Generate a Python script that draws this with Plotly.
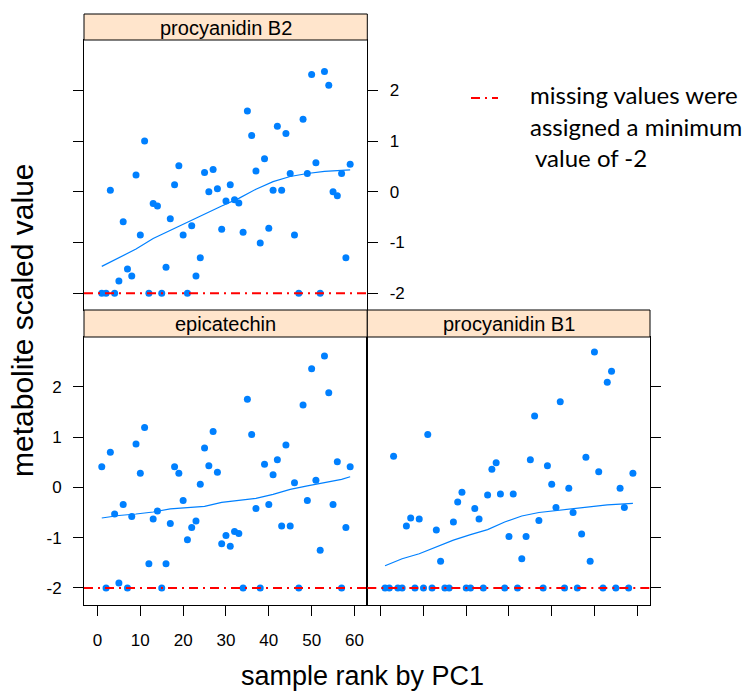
import plotly.graph_objects as go

# ---------------- data ----------------
rank = list(range(1, 60))
MISSING_VALUE = -2

procyanidin_b2 = [-2, -2, 0.03, -2, -1.76, -0.59, -1.52, -1.66, 0.33, -0.85,
                  1.00, -2, -0.23, -0.28, -2, -1.49, -0.53, 0.14, 0.51, -0.85,
                  -2, -0.67, -1.66, -1.30, 0.38, 0.00, 0.44, 0.06, -0.74, -0.18,
                  0.14, -0.16, -0.22, -0.80, 1.59, 1.11, 0.41, -1.01, 0.65, -0.72,
                  0.03, 1.29, 0.03, 1.15, 0.36, -0.85, -2, 1.43, 0.36, 2.31,
                  0.57, -2, 2.37, 2.10, 0.00, -0.08, 0.36, -1.30, 0.54]

epicatechin = [0.41, -2, 0.70, -0.53, -1.90, -0.34, -2, -0.58, 0.86, 0.28,
               1.19, -1.52, -0.63, -0.47, -2, -1.52, -0.72, 0.41, 0.28, -0.26,
               -1.04, -0.80, -0.67, 0.06, 0.78, 0.43, 1.11, 0.30, -1.12, -0.96,
               -1.17, -0.88, -0.92, -2, 1.75, 1.05, -0.42, -2, 0.46, -0.34,
               0.25, 0.55, -0.77, 0.84, -0.77, 0.09, -2, 1.64, -0.26, 2.36,
               0.14, -1.25, 2.61, 1.88, -0.34, 0.51, -2, -0.80, 0.41]

procyanidin_b1 = [-2, -2, 0.62, -2, -2, -0.77, -0.61, -2, -0.63, -2,
                  1.05, -2, -0.85, -1.47, -2, -2, -0.69, -0.29, -0.10, -2,
                  -2, -0.42, -0.63, -2, -0.15, 0.36, 0.49, -0.13, -2, -0.98,
                  -0.13, -2, -1.42, -0.98, 0.55, 1.42, -0.66, -2, 0.43, 0.06,
                  -0.40, 1.70, -2, -0.02, -0.50, -2, -0.93, 0.60, -1.47, 2.69,
                  0.31, -2, 2.09, 2.31, -2, -0.02, -0.40, -2, 0.28]

smooth_rank = [1, 5, 9, 13, 17, 21, 25, 29, 33, 37, 41, 45, 49, 53, 57, 59]
smooth_b2 = [-1.47, -1.30, -1.13, -0.92, -0.76, -0.59, -0.43, -0.28, -0.13, 0.05,
             0.20, 0.30, 0.36, 0.40, 0.42, 0.43]
smooth_epi = [-0.61, -0.56, -0.53, -0.49, -0.43, -0.40, -0.38, -0.30, -0.26, -0.22,
              -0.14, -0.04, 0.03, 0.09, 0.16, 0.21]
smooth_b1 = [-1.56, -1.42, -1.32, -1.18, -1.05, -0.94, -0.84, -0.69, -0.57, -0.50,
             -0.46, -0.42, -0.39, -0.35, -0.33, -0.32]

panel_names = ["procyanidin B2", "epicatechin", "procyanidin B1"]
x_ticks = [0, 10, 20, 30, 40, 50, 60]
x_tick_labels = ["0", "10", "20", "30", "40", "50", "60"]
y_ticks = [-2, -1, 0, 1, 2]
y_tick_labels = ["-2", "-1", "0", "1", "2"]
legend_lines = ["missing values were", "assigned a minimum", "value of -2"]

# ---------------- layout helpers ----------------
W, H = 751, 692
def px_x(p):
    return p / W
def px_y(p):
    return 1 - p / H

PT_COLOR = "#0080ff"
FONT = "Liberation Sans Narrow, Arial Narrow, Liberation Sans, Arial, sans-serif"

fig = go.Figure()

panels = [
    (procyanidin_b2, smooth_b2, "x", "y"),
    (epicatechin, smooth_epi, "x2", "y2"),
    (procyanidin_b1, smooth_b1, "x3", "y3"),
]
for vals, sm, xa, ya in panels:
    fig.add_trace(go.Scatter(x=rank, y=vals, mode="markers", xaxis=xa, yaxis=ya,
                             marker=dict(color=PT_COLOR, size=7), showlegend=False,
                             hoverinfo="skip"))
    fig.add_trace(go.Scatter(x=smooth_rank, y=sm, mode="lines", xaxis=xa, yaxis=ya,
                             line=dict(color=PT_COLOR, width=1.2), showlegend=False,
                             hoverinfo="skip"))

# panel geometry in pixels
left_x = [84, 367.3]
right_x = [367.3, 650]
top_y = [40, 310]
bot_y = [337, 604.5]
xr = [-3.15, 63.0]
yr = [-2.33, 2.99]

common = dict(showgrid=False, zeroline=False, showline=True, linecolor="black",
              linewidth=1, tickcolor="black", ticklen=10, tickwidth=1,
              tickfont=dict(family=FONT, size=17, color="black"))

fig.update_layout(
    width=W, height=H, margin=dict(l=0, r=0, t=0, b=0),
    plot_bgcolor="white", paper_bgcolor="white", showlegend=False,
    xaxis=dict(domain=[px_x(left_x[0]), px_x(left_x[1])], range=xr, anchor="y",
               tickvals=x_ticks, ticktext=x_tick_labels, ticks="", showticklabels=False,
               mirror=True, **common),
    yaxis=dict(domain=[px_y(top_y[1]), px_y(top_y[0])], range=yr, anchor="x",
               side="right", tickvals=y_ticks, ticktext=y_tick_labels, ticks="outside",
               mirror="ticks", ticklabelstandoff=8, **common),
    xaxis2=dict(domain=[px_x(left_x[0]), px_x(left_x[1])], range=xr, anchor="y2",
                tickvals=x_ticks, ticktext=x_tick_labels, ticks="outside", mirror=True,
                ticklabelstandoff=10, **common),
    yaxis2=dict(domain=[px_y(bot_y[1]), px_y(bot_y[0])], range=yr, anchor="x2",
                tickvals=y_ticks, ticktext=y_tick_labels, ticks="outside", mirror=True,
                ticklabelstandoff=8, **common),
    xaxis3=dict(domain=[px_x(right_x[0]), px_x(right_x[1])], range=xr, anchor="y3",
                tickvals=x_ticks, ticks="outside", showticklabels=False, mirror=True,
                **common),
    yaxis3=dict(domain=[px_y(bot_y[1]), px_y(bot_y[0])], range=yr, anchor="x3",
                side="right", tickvals=y_ticks, ticks="outside", showticklabels=False,
                mirror=True, **common),
)

RED_DASH = "9px,5px,2px,5px"
shapes = []
annotations = []
# missing-value reference lines
for xa, ya in [("x", "y"), ("x2", "y2"), ("x3", "y3")]:
    shapes.append(dict(type="line", xref=f"{xa} domain", yref=ya, x0=0, x1=1,
                       y0=MISSING_VALUE, y1=MISSING_VALUE,
                       line=dict(color="red", width=2, dash=RED_DASH), layer="above"))

# strips
strips = [
    (panel_names[0], left_x, [14, 40]),
    (panel_names[1], left_x, [310, 337]),
    (panel_names[2], right_x, [310, 337]),
]
for name, xs, ys in strips:
    shapes.append(dict(type="rect", xref="paper", yref="paper",
                       x0=px_x(xs[0]), x1=px_x(xs[1]), y0=px_y(ys[1]), y1=px_y(ys[0]),
                       fillcolor="#ffe5cc", line=dict(color="black", width=1),
                       layer="above"))
    annotations.append(dict(text=name, xref="paper", yref="paper",
                            x=px_x((xs[0] + xs[1]) / 2), y=px_y((ys[0] + ys[1]) / 2 + 0.5),
                            xanchor="center", yanchor="middle", showarrow=False,
                            font=dict(family=FONT, size=20, color="black")))

# legend key
shapes.append(dict(type="line", xref="paper", yref="paper",
                   x0=px_x(471), x1=px_x(498), y0=px_y(98), y1=px_y(98),
                   line=dict(color="red", width=2, dash=RED_DASH)))
LEG_FONT = "Lato, Open Sans, sans-serif"
for txt, xp, yp in zip(legend_lines, [528, 528, 533], [95, 126, 157]):
    annotations.append(dict(text=txt, xref="paper", yref="paper", x=px_x(xp), y=px_y(yp),
                            xanchor="left", yanchor="middle", showarrow=False,
                            font=dict(family=LEG_FONT, size=24, color="black")))

# axis titles
annotations.append(dict(text="metabolite scaled value", xref="paper", yref="paper",
                        x=px_x(22), y=px_y(320), textangle=-90, xanchor="center",
                        yanchor="middle", showarrow=False,
                        font=dict(family=FONT, size=30, color="black")))
annotations.append(dict(text="sample rank by PC1", xref="paper", yref="paper",
                        x=px_x(362), y=px_y(676), xanchor="center", yanchor="middle",
                        showarrow=False, font=dict(family=FONT, size=27, color="black")))

fig.update_layout(shapes=shapes, annotations=annotations)
fig.write_html("out.html")
